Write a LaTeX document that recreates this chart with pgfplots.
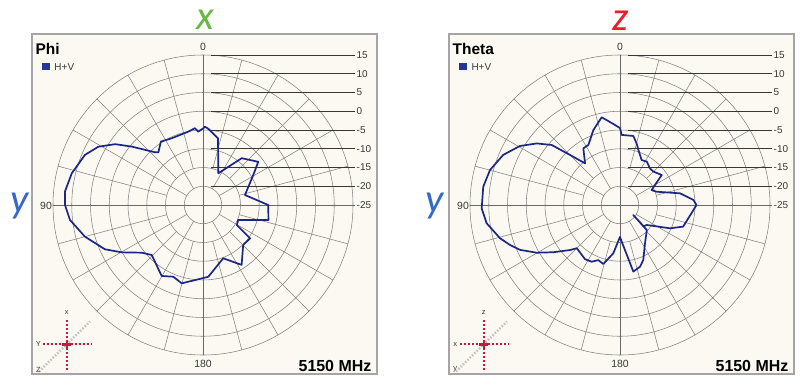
\documentclass[border=0pt]{standalone}
\usepackage{pgfplots}
\pgfplotsset{compat=1.18}
\usepackage{pgfplotstable}
\usepgfplotslibrary{polar}
\usepackage{fontspec}
\setmainfont{Liberation Sans}
\newfontfamily\bigfont{Carlito}
\definecolor{bgc}{RGB}{251,249,242}
\definecolor{boxc}{RGB}{165,165,165}
\definecolor{gridc}{RGB}{130,130,130}
\definecolor{lblc}{RGB}{55,55,55}
\definecolor{curvec}{RGB}{28,38,135}
\definecolor{legc}{RGB}{35,55,150}
\definecolor{icred}{RGB}{205,20,60}
\definecolor{icgray}{RGB}{195,195,195}
\definecolor{bigx}{RGB}{105,185,65}
\definecolor{bigz}{RGB}{235,30,40}
\definecolor{bigy}{RGB}{55,105,200}

\pgfplotstableread{
a d
0 -4.6
3.7 -5.4
6 -4.4
11.3 -5.05
25.1 -5.35
33.6 -4.7
40.3 -6.6
42.3 -6.0
50.7 -0.4
55.3 3.5
60.9 6.95
67 9.2
76.4 11.0
84.5 12.0
90 11.8
96.4 10.7
105 7.6
114.3 3.7
120.2 0.1
127.9 -4.3
134.3 -5.9
149.8 -3.1
157.5 -4.3
164.8 -3.35
184.2 -5.8
200.8 -9.8
212.8 -6.0
225.2 -9.9
234.7 -9.6
239.3 -14.5
247 -14.8
257.1 -7.1
270 -7.6
283.4 -13.5
300.8 -9.4
308 -6.3
320.4 -8.8
334.2 -15.6
347.3 -6.8
355.5 -4.75
358.5 -4.1
360 -4.6
}\phidata

\pgfplotstableread{
a d
0 -4.5
3.6 -3.6
11.8 -1.1
19.6 -3.8
27.8 -6.9
32.9 -7.0
40 -10.5
45 -6.1
48.7 -0.75
53.5 2.6
59.5 6.0
66.8 8.9
74.9 10.9
82.4 11.8
91.4 11.9
97.8 10.9
105.5 8.2
110 6.2
114.2 4.2
119.8 0.6
125.3 -3.2
132 -7.05
135 -8.7
147.2 -7.8
153.5 -8.1
158.5 -9.2
164.2 -8.65
172.1 -12.0
180 -16.5
182.7 -15.2
191.3 -6.9
198 -7.7
203 -9.1
213.1 -12.8
226.9 -15.2
233 -20.6
228 -16.5
233.2 -16.1
245 -10.3
251.1 -7.2
270 -4.6
274 -5.4
281 -8.7
289.9 -14.6
295.3 -15.7
305.7 -11.3
315 -12.4
320.7 -12.4
328.3 -11.4
334.3 -11.7
341.6 -9.5
344.9 -8.0
349.1 -6.25
358.6 -6.3
360 -4.5
}\thetadata

% #1 shift, #2 title, #3 icon top, #4 icon left, #5 icon diag, #6 data
\newcommand{\panel}[6]{%
  \pgfmathsetmacro{\cx}{203+#1}%
  \begin{scope}[shift={(#1,0)}]
    \fill[bgc] (32,14) rectangle (377,354);
    \draw[boxc, line width=1.8bp] (32,14) rectangle (377,354);
    % rings
    \foreach \k in {1,...,8} {
      \draw[gridc, line width=0.55bp] (203,183) circle[radius=18.75*\k];
    }
    % spokes
    \foreach \t in {30,60,120,150,210,240,300,330} {
      \draw[gridc, line width=0.55bp] (203,183) ++(\t:18.75) -- ++(\t:131.25);
    }
    \foreach \t in {15,45,75,105,135,165,195,225,255,285,315,345} {
      \draw[gridc, line width=0.55bp] (203,183) ++(\t:37.5) -- ++(\t:112.5);
    }
    % axes
    \draw[gridc!80!black, line width=0.6bp] (203,33) -- (203,333);
    \draw[gridc!80!black, line width=0.6bp] (53,183) -- (355,183);
    % right-side scale lines and labels
    \foreach \k/\lab in {1/-20,2/-15,3/-10,4/-5,5/0,6/5,7/10,8/15} {
      \draw[lblc, line width=0.6bp] (211,183+18.75*\k) -- (355,183+18.75*\k);
      \node[anchor=west, inner sep=1bp, text=lblc, font=\fontsize{10}{11}\selectfont] at (355.5,183+18.75*\k) {\lab};
    }
    \node[anchor=west, inner sep=1bp, text=lblc, font=\fontsize{10}{11}\selectfont] at (355.5,183) {-25};
    % angle labels
    \node[anchor=base, inner sep=0pt, text=lblc, font=\fontsize{10.5}{11}\selectfont] at (203,337.5) {0};
    \node[anchor=base west, inner sep=0pt, text=lblc, font=\fontsize{10.5}{11}\selectfont] at (40,179) {90};
    \node[anchor=base, inner sep=0pt, text=lblc, font=\fontsize{10.5}{11}\selectfont] at (203,20.7) {180};
    % title and legend
    \node[anchor=base west, inner sep=0pt, font=\bfseries\fontsize{15.5}{16}\selectfont] at (35.5,333.8) {#2};
    \fill[legc] (42.3,318) rectangle (50,325.5);
    \node[anchor=base west, inner sep=0pt, text=lblc, font=\fontsize{10}{11}\selectfont] at (54.3,318) {H+V};
    % frequency
    \node[anchor=base east, inner sep=0pt, font=\bfseries\fontsize{16}{17}\selectfont] at (371.5,16.5) {5150 MHz};
    % orientation icon
    \draw[icgray, line width=2.4bp, dash pattern=on 1.6bp off 1.6bp] (39,16.5) -- (90,66.5);
    \draw[icred, line width=2.2bp, dash pattern=on 2bp off 2bp] (66.7,18) -- (66.7,68);
    \draw[icred, line width=2.2bp, dash pattern=on 2bp off 2bp] (43,43.7) -- (91.7,43.7);
    \draw[icred, line width=2.4bp] (62,43.7) -- (71.4,43.7) (66.7,39) -- (66.7,48.4);
    \node[inner sep=0pt, text=lblc, font=\fontsize{7.5}{8}\selectfont] at (66.7,75.5) {#3};
    \node[inner sep=0pt, text=lblc, font=\fontsize{7.5}{8}\selectfont] at (38.3,43.7) {#4};
    \node[inner sep=0pt, text=lblc, font=\fontsize{7.5}{8}\selectfont] at (38.3,18.3) {#5};
  \end{scope}
  \begin{polaraxis}[
    at={(\cx bp,183bp)}, anchor=center,
    scale only axis, width=300bp, height=300bp,
    xmin=0, xmax=360, ymin=0, ymax=40,
    hide axis, clip=false,
    xtick=\empty, ytick=\empty,
  ]
    \addplot[curvec, line width=1.7bp, no markers, line join=round]
      table[x expr={mod(\thisrow{a}+90,360)}, y expr={\thisrow{d}+25}] {#6};
  \end{polaraxis}
}

\begin{document}
\begin{tikzpicture}[x=1bp,y=1bp]
  \useasboundingbox (0,0) rectangle (807,388);
  \panel{0}{Phi}{x}{Y}{Z}{\phidata}
  \panel{417}{Theta}{z}{x}{y}{\thetadata}
  % big axis letters
  \node[anchor=base, inner sep=0pt, text=bigx, font=\bigfont\itshape\fontsize{41}{41}\selectfont] at (205,358.7) {x};
  \node[anchor=base, inner sep=0pt, text=bigz, font=\bigfont\itshape\fontsize{41}{41}\selectfont] at (621,357.5) {z};
  \node[anchor=base, inner sep=0pt, text=bigy, font=\bigfont\itshape\fontsize{41}{41}\selectfont] at (19.5,175.4) {y};
  \node[anchor=base, inner sep=0pt, text=bigy, font=\bigfont\itshape\fontsize{41}{41}\selectfont] at (434.5,175.4) {y};
\end{tikzpicture}
\end{document}
